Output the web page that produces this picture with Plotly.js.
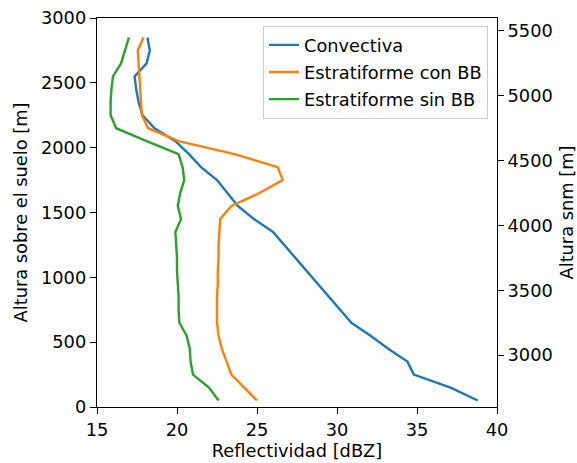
<!DOCTYPE html>
<html>
<head>
<meta charset="utf-8">
<script src="https://cdn.plot.ly/plotly-3.0.1.min.js"></script>
<style>html,body{margin:0;padding:0;background:#fff;}#chart{width:577px;height:463px;}</style>
</head>
<body>
<div id="chart"></div>
<script>
const alturas = [50,150,250,350,450,550,650,750,850,950,1050,1150,1250,1350,1450,1550,1650,1750,1850,1950,2050,2150,2250,2350,2450,2550,2650,2750,2850];
const convectiva = [38.8,37.1,34.8,34.4,33.2,32.1,30.9,30.2,29.5,28.8,28.1,27.4,26.7,26.0,24.8,23.8,23.15,22.5,21.5,20.75,19.9,18.6,17.85,17.6,17.45,17.35,18.1,18.3,18.15];
const estratiformeConBB = [25.0,24.2,23.4,23.1,22.8,22.6,22.5,22.5,22.5,22.55,22.55,22.6,22.6,22.65,22.7,23.4,25.15,26.6,26.3,23.6,20.1,18.2,17.8,17.75,17.7,17.65,17.6,17.55,17.9];
const estratiformeSinBB = [22.6,22.0,21.0,20.85,20.8,20.6,20.15,20.1,20.1,20.05,20.0,20.0,19.95,19.9,20.25,20.05,20.2,20.45,20.35,20.1,18.1,16.2,15.85,15.85,15.9,16.0,16.5,16.75,17.0];
const nombres = ["Convectiva","Estratiforme con BB","Estratiforme sin BB"];
const colores = ["#1f77b4","#ff7f0e","#2ca02c"];
const xTicks = [15,20,25,30,35,40];
const yTicks = [0,500,1000,1500,2000,2500,3000];
const y2Ticks = [3000,3500,4000,4500,5000,5500];
const offsetSnm = 2600;

const series = [convectiva, estratiformeConBB, estratiformeSinBB];
const traces = series.map((s,i)=>({
  x: s, y: alturas, type:'scatter', mode:'lines', name: nombres[i],
  legendgroup: 'g'+i,
  line:{color: colores[i], width:2.4}
}));
traces.push({x:[15,40], y:[offsetSnm, offsetSnm+3000], yaxis:'y2', type:'scatter', mode:'lines', line:{width:0,color:'rgba(0,0,0,0)'}, showlegend:false, hoverinfo:'skip'});

const F = {family:'DejaVu Sans, sans-serif', size:17.8, color:'#000'};
const layout = {
  width:577, height:463,
  margin:{l:97, r:80, t:18, b:56, pad:0},
  paper_bgcolor:'#fff', plot_bgcolor:'#fff',
  font:F,
  showlegend:true,
  legend:{x:0.9775, xanchor:'right', y:0.98, yanchor:'top', bgcolor:'rgba(255,255,255,0.8)', bordercolor:'#cccccc', borderwidth:1, font:F, traceorder:'grouped', tracegroupgap:1},
  xaxis:{range:[15,40], tickvals:xTicks, ticktext:xTicks.map(String), showgrid:false, zeroline:false, showline:true, mirror:true, linecolor:'#000', linewidth:1.2, ticks:'outside', ticklen:6, tickcolor:'#000', tickfont:F, title:{text:'Reflectividad [dBZ]', font:F, standoff:6}},
  yaxis:{range:[0,3000], tickvals:yTicks, ticktext:yTicks.map(String), showgrid:false, zeroline:false, showline:true, mirror:true, linecolor:'#000', linewidth:1.2, ticks:'outside', ticklen:6, tickcolor:'#000', tickfont:F, title:{text:'Altura sobre el suelo [m]', font:F, standoff:8}},
  yaxis2:{overlaying:'y', side:'right', range:[offsetSnm, offsetSnm+3000], tickvals:y2Ticks, ticktext:y2Ticks.map(String), showgrid:false, zeroline:false, showline:false, ticks:'outside', ticklen:6, tickcolor:'#000', tickfont:F, title:{text:'Altura snm [m]', font:F, standoff:8}}
};
Plotly.newPlot('chart', traces, layout, {staticPlot:true, displayModeBar:false});
</script>
</body>
</html>
